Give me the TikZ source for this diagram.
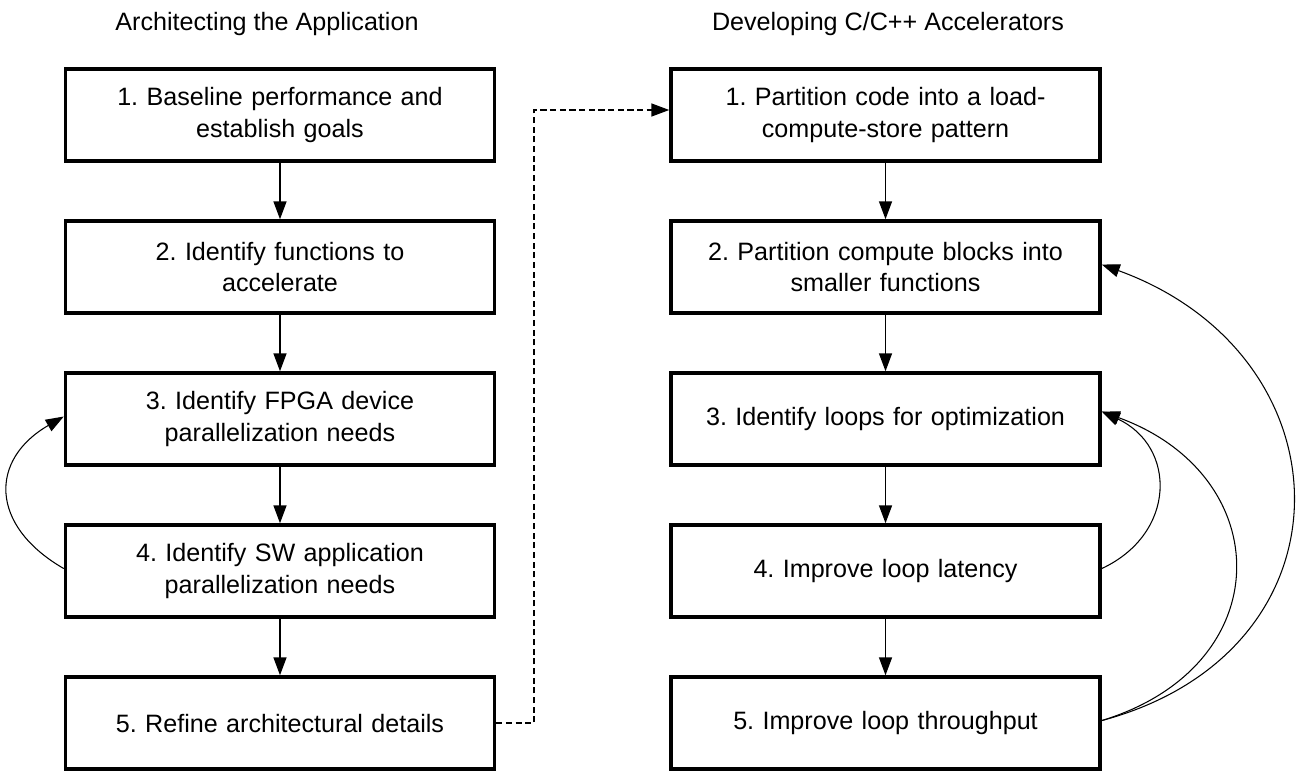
\documentclass[tikz,border=0pt]{standalone}
\usepackage{fontspec}
\setmainfont{Liberation Sans}
\usetikzlibrary{positioning,arrows.meta}
\frenchspacing

\begin{document}
\begin{tikzpicture}[
    node distance=1.13cm and 3.46cm,
    every node/.style={align=center},
    stepbox/.style={rectangle, draw=black, line width=2pt, minimum width=8.58cm, minimum height=1.84cm, text width=8cm, font=\fontsize{14.3}{17.8}\selectfont},
    heading/.style={font=\fontsize{14.3}{17.8}\selectfont},
    arrow/.style={-{Triangle[length=0.36cm,width=0.26cm]}, line width=0.9pt},
    loop/.style={-{Triangle[length=0.36cm,width=0.26cm]}, line width=0.6pt},
    jump/.style={-{Triangle[length=0.36cm,width=0.26cm]}, line width=0.9pt, dash pattern=on 3.5pt off 2pt}
]
\useasboundingbox (0,0) rectangle (26.08,-15.62);

% Headings
\node[heading] (lhead) at (5.34,-0.48) {Architecting the Application};
\node[heading] (rhead) at (17.76,-0.48) {Developing C/C++ Accelerators};

% Left column
\node[stepbox] (l1) at (5.6,-2.3) {1. Baseline performance and\\establish goals};
\node[stepbox, below=of l1] (l2) {2. Identify functions to\\accelerate};
\node[stepbox, below=of l2] (l3) {3. Identify FPGA device\\parallelization needs};
\node[stepbox, below=of l3] (l4) {4. Identify SW application\\parallelization needs};
\node[stepbox, below=of l4] (l5) {5. Refine architectural details};

% Right column
\node[stepbox, right=of l1] (r1) {1. Partition code into a load-\\compute-store pattern};
\node[stepbox, below=of r1] (r2) {2. Partition compute blocks into\\smaller functions};
\node[stepbox, below=of r2] (r3) {3. Identify loops for optimization};
\node[stepbox, below=of r3] (r4) {4. Improve loop latency};
\node[stepbox, below=of r4] (r5) {5. Improve loop throughput};

% Straight arrows
\draw[arrow] (l1) -- (l2);
\draw[arrow] (l2) -- (l3);
\draw[arrow] (l3) -- (l4);
\draw[arrow] (l4) -- (l5);
\draw[arrow] (r1) -- (r2);
\draw[arrow] (r2) -- (r3);
\draw[arrow] (r3) -- (r4);
\draw[arrow] (r4) -- (r5);

% Feedback loops
\draw[loop] ([yshift=0.05cm]l4.west) to[out=150, in=210, looseness=1.45] ([yshift=0.05cm]l3.west);
\draw[loop] ([yshift=0.05cm]r4.east) to[out=25, in=-25, looseness=1.35] ([yshift=0.15cm]r3.east);
\draw[loop] ([yshift=0.05cm]r5.east) to[out=17, in=-20, looseness=1.55] ([yshift=0.15cm]r3.east);
\draw[loop] ([yshift=0.05cm]r5.east) to[out=15, in=-20, looseness=1.5] ([yshift=0.05cm]r2.east);

% Hand-off between columns
\draw[jump] (l5.east) -- ++(0.76,0) |- ([yshift=0.1cm]r1.west);

\end{tikzpicture}
\end{document}
